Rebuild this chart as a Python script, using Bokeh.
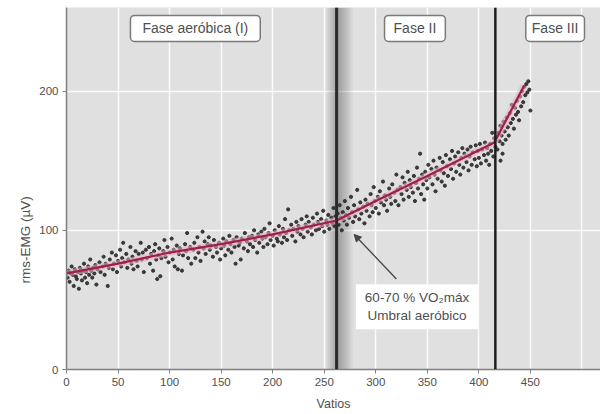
import numpy as np
from bokeh.plotting import figure
from bokeh.models import Label, Arrow, NormalHead, FixedTicker, Range1d, Span, Title
from bokeh.embed import file_html
from bokeh.resources import INLINE

# ---- data ----
vatios = [
    1, 2, 3, 4, 5, 6, 7, 8, 9, 10, 11, 12, 13, 14, 15, 16, 17, 18, 19, 20,
    21, 22, 23, 24, 25, 26, 27, 28, 29, 30, 32, 33, 35, 36, 37, 38, 40, 41, 42, 44,
    45, 46, 48, 49, 50, 52, 53, 54, 55, 56, 58, 59, 60, 62, 63, 64, 65, 67, 68, 69,
    70, 72, 73, 74, 75, 77, 78, 80, 81, 82, 84, 85, 86, 87, 88, 89, 90, 91, 92, 94,
    95, 96, 98, 99, 100, 102, 103, 104, 105, 107, 108, 109, 110, 112, 113, 115, 116, 117, 118, 120,
    121, 123, 124, 125, 127, 128, 129, 130, 132, 133, 134, 135, 137, 138, 139, 140, 142, 143, 145, 146,
    148, 149, 150, 152, 153, 154, 155, 157, 158, 159, 160, 162, 163, 164, 165, 167, 168, 169, 170, 172,
    173, 175, 176, 177, 178, 180, 181, 182, 183, 185, 186, 187, 189, 190, 191, 192, 193, 195, 196, 197,
    198, 200, 201, 202, 204, 205, 206, 207, 209, 210, 211, 212, 213, 214, 215, 216, 218, 219, 220, 222,
    223, 224, 225, 227, 228, 229, 230, 232, 233, 234, 235, 237, 238, 239, 240, 242, 243, 244, 245, 247,
    248, 249, 250, 252, 253, 254, 255, 257, 258, 259, 260, 261,
    263, 264, 265, 266, 267, 268, 269, 270, 271, 272, 273, 274, 276, 277, 278, 279, 280, 282, 283, 284,
    285, 286, 288, 289, 290, 291, 292, 294, 295, 296, 297, 298, 299, 300, 302, 303, 304, 305, 307, 308,
    309, 310, 311, 313, 314, 315, 316, 318, 319, 320, 321, 322, 324, 325, 326, 327, 328, 330, 331, 332,
    333, 334, 336, 337, 338, 339, 340, 341, 342, 343, 344, 345, 346, 347, 348, 349, 350, 351, 352, 354,
    355, 356, 357, 358, 359, 360, 362, 363, 364, 365, 366, 367, 368, 369, 370, 372, 373, 374, 375, 376,
    377, 378, 380, 381, 382, 383, 384, 385, 386, 388, 389, 390, 391, 392, 393, 394, 396, 397, 398, 399,
    400, 401, 402, 403, 405, 406, 407, 408, 409, 410, 411, 412, 413, 414, 415,
    416, 417, 418, 419, 420, 421, 422, 423, 424, 425, 426, 427, 428, 429, 430, 431, 432, 433, 434, 435,
    436, 437, 438, 439, 440, 441, 442, 443, 444, 445, 446, 447, 448, 449, 450, 421, 423,
]
emg = [
    66, 71, 63, 69, 74, 68, 60, 72, 67, 65, 70, 58, 73, 69, 64, 71, 76, 66, 70, 62,
    74, 68, 79, 71, 66, 73, 69, 75, 61, 72, 77, 70, 74, 81, 68, 76, 60, 73, 79, 84,
    72, 76, 82, 70, 78, 86, 74, 80, 91, 77, 83, 73, 79, 88, 76, 81, 72, 85, 78, 74,
    83, 91, 79, 84, 70, 86, 80, 88, 76, 83, 71, 85, 90, 79, 65, 82, 87, 67, 80, 85,
    93, 81, 88, 77, 84, 94, 79, 86, 74, 89, 72, 83, 87, 71, 82, 90, 85, 98, 80, 88,
    76, 86, 91, 80, 95, 84, 88, 78, 99, 87, 92, 83, 90, 95, 86, 89, 81, 93, 88, 84,
    91, 79, 87, 94, 89, 82, 92, 86, 96, 90, 84, 93, 88, 76, 95, 89, 91, 79, 94, 87,
    98, 92, 85, 95, 90, 96, 88, 100, 93, 84, 97, 91, 99, 94, 88, 101, 95, 90, 98, 105,
    93, 96, 89, 100, 94, 92, 103, 97, 91, 101, 95, 108, 98, 93, 115, 100, 104, 96, 101, 92,
    106, 99, 103, 97, 108, 101, 95, 104, 110, 99, 106, 102, 97, 109, 104, 100, 112, 106, 101, 108,
    103, 114, 99, 107, 104, 111, 101, 109, 105, 116, 103, 110,
    112, 104, 118, 109, 100, 113, 107, 121, 111, 104, 116, 109, 124, 113, 106, 118, 110, 129, 115, 108,
    120, 112, 117, 105, 122, 114, 119, 110, 126, 118, 113, 131, 121, 116, 124, 112, 128, 120, 135, 118,
    125, 122, 114, 130, 124, 119, 133, 127, 121, 140, 129, 118, 131, 126, 138, 122, 134, 129, 142, 124,
    136, 131, 127, 139, 121, 134, 145, 130, 137, 155, 126, 140, 133, 122, 142, 136, 130, 147, 138, 144,
    133, 150, 140, 128, 145, 137, 152, 143, 135, 149, 141, 132, 154, 146, 139, 151, 144, 157, 137, 148,
    153, 142, 156, 147, 140, 152, 159, 145, 155, 149, 158, 143, 153, 160, 147, 156, 151, 161, 146, 157,
    152, 162, 148, 158, 154, 163, 150, 159, 155, 147, 162, 157, 170, 153, 166,
    160, 167, 158, 170, 164, 175, 168, 162, 178, 171, 165, 181, 174, 168, 184, 177, 190, 180, 173, 188,
    183, 193, 185, 179, 196, 189, 200, 192, 203, 197, 205, 199, 207, 201, 186, 150, 155,
]
ajuste_x = [0, 50, 100, 150, 200, 262, 300, 350, 415, 444]
ajuste_y = [69, 76, 84, 90, 97, 107, 121, 139, 163, 204]
umbral_aerobico = 262
umbral_anaerobico = 416
x_ticks = list(range(0, 451, 50))
y_ticks = [0, 100, 200]

FONT = "Liberation Sans"
TXT = "#505050"

p = figure(width=600, height=414, x_range=Range1d(0, 518), y_range=Range1d(0, 260),
           output_backend="svg", toolbar_location=None,
           min_border_left=66, min_border_right=0, min_border_top=7, min_border_bottom=45)
p.background_fill_color = "#e0e0e0"
p.border_fill_color = "white"
p.outline_line_color = None

p.xgrid.ticker = FixedTicker(ticks=list(range(0, 501, 50)))
p.ygrid.ticker = FixedTicker(ticks=y_ticks)
for g in (p.xgrid, p.ygrid):
    g.grid_line_color = "white"
    g.grid_line_width = 1.5
    g.grid_line_alpha = 0.85

# gradient band around the aerobic threshold
offs = np.arange(-10, 16, 1.0)
alphas = np.where(offs < 0, 0.38 * (1 - np.abs(offs) / 11), 0.42 * (1 - offs / 16))
p.quad(left=umbral_aerobico + offs, right=umbral_aerobico + offs + 1, bottom=0, top=260,
       fill_color="#2e2e2e", fill_alpha=alphas, line_color=None)
p.add_layout(Span(location=umbral_aerobico, dimension="height", line_color="#2a2a2a", line_width=3))
p.add_layout(Span(location=umbral_anaerobico, dimension="height", line_color="#1e1e1e", line_width=2.5))

p.scatter(vatios, emg, size=3.2, color="#2b2b2b", alpha=0.9)

p.line(ajuste_x, ajuste_y, line_color="#eab0c4", line_width=7, line_alpha=0.55)
p.line(ajuste_x, ajuste_y, line_color="#9e1f4b", line_width=2.2)

# axes
p.xaxis.ticker = FixedTicker(ticks=x_ticks)
p.yaxis.ticker = FixedTicker(ticks=y_ticks)
for ax in (p.xaxis, p.yaxis):
    ax.axis_line_color = "#808080"
    ax.axis_line_width = 1.5
    ax.major_tick_line_color = "#808080"
    ax.major_tick_in = 0
    ax.major_tick_out = 4
    ax.minor_tick_line_color = None
    ax.major_label_text_font = FONT
    ax.major_label_text_font_size = "11.5px"
    ax.major_label_text_color = TXT
    ax.major_label_standoff = 4
p.xaxis.axis_label = "Vatios"
p.xaxis.axis_label_text_font = FONT
p.xaxis.axis_label_text_font_size = "12.5px"
p.xaxis.axis_label_text_font_style = "normal"
p.xaxis.axis_label_text_color = TXT
p.xaxis.axis_label_standoff = 8

p.add_layout(Title(text="rms-EMG (µV)", align="left", offset=86, text_font=FONT,
                   text_font_size="13.5px", text_font_style="normal", text_color=TXT,
                   standoff=8), "left")


def caja(x, y, text, pad, size="14px"):
    p.add_layout(Label(x=x, y=y, text=text, text_align="center", text_baseline="middle",
                       text_font=FONT, text_font_size=size, text_alpha=0,
                       x_offset=2, y_offset=-2, padding=pad, border_radius=4,
                       background_fill_color="#8a8a8a", background_fill_alpha=0.55))
    p.add_layout(Label(x=x, y=y, text=text, text_align="center", text_baseline="middle",
                       text_font=FONT, text_font_size=size, text_color=TXT,
                       padding=pad, border_radius=4, background_fill_color="white",
                       border_line_color="#7a7a7a", border_line_width=1.5))


caja(125, 245, "Fase aeróbica (I)", (12, 5))
caja(338, 245, "Fase II", (9, 5))
caja(474, 245, "Fase III", (6, 5))

p.add_layout(Arrow(end=NormalHead(size=7, fill_color="#444444", line_color="#444444"),
                   x_start=320, y_start=65, x_end=279, y_end=97,
                   line_color="#444444", line_width=1.3))
anot = "60-70 % VO₂máx\nUmbral aeróbico"
p.add_layout(Label(x=340, y=45, text=anot, text_align="center", text_baseline="middle",
                   text_font=FONT, text_font_size="13.5px", text_alpha=0,
                   padding=(9, 6), x_offset=3, y_offset=-3,
                   background_fill_color="#8a8a8a", background_fill_alpha=0.45))
p.add_layout(Label(x=340, y=45, text=anot, text_align="center", text_baseline="middle",
                   text_font=FONT, text_font_size="13.5px", text_color=TXT,
                   padding=(9, 6), background_fill_color="white", border_line_color=None))

open("out.html", "w").write(file_html(p, INLINE))
